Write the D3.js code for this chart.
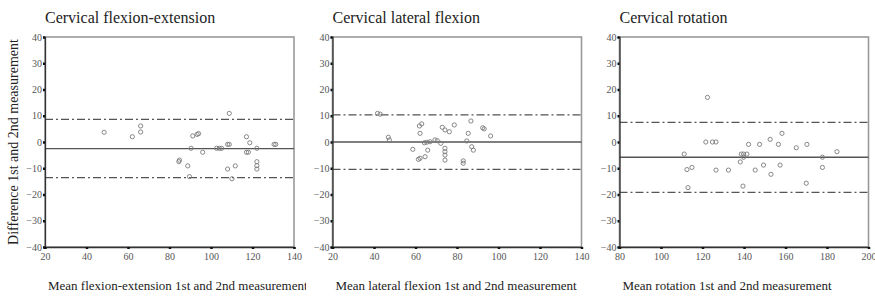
<!DOCTYPE html>
<html><head><meta charset="utf-8">
<script src="https://cdn.jsdelivr.net/npm/d3@7"></script>
<style>
body{margin:0;background:#fff;}
svg{display:block;}
text{font-family:"Liberation Serif","DejaVu Serif",serif;}
</style></head>
<body>
<svg id="c" width="875" height="296"></svg>
<script>
// ---- data ----
const titles = ["Cervical flexion-extension", "Cervical lateral flexion", "Cervical rotation"];
const xLabels = ["Mean flexion-extension 1st and 2nd measurement",
                 "Mean lateral flexion 1st and 2nd measurement",
                 "Mean rotation 1st and 2nd measurement"];
const yLabel = "Difference 1st and 2nd measurement";
const xTicks1 = [20, 40, 60, 80, 100, 120, 140];
const xTicks2 = [20, 40, 60, 80, 100, 120, 140];
const xTicks3 = [80, 100, 120, 140, 160, 180, 200];
const yTicks = [40, 30, 20, 10, 0, -10, -20, -30, -40];

const flexExt = [[48.5,3.7],[62.1,2.0],[66.1,6.1],[66.1,3.8],[91.2,2.3],[93.3,2.9],[94.0,3.2],
  [90.4,-2.4],[96,-3.9],[102.7,-2.4],[104,-2.4],[105.1,-2.4],[108,-0.9],[108.8,-0.9],[108.8,10.9],
  [117.1,2.0],[118.7,-0.3],[117.1,-3.9],[118,-3.9],[122.1,-2.4],[130.4,-0.9],[131.2,-0.9],
  [122.1,-7.5],[122.1,-9.0],[122.1,-10.3],[84.5,-7.5],[84.8,-6.9],[88.8,-9.1],[108,-10.3],
  [111.7,-9.1],[89.6,-13.2],[110.1,-14]];
const flexExtStats = [-2.5, 8.6, -13.6];   // mean, upper limit, lower limit

const latFlex = [[41.7,10.9],[43,10.6],[46.9,1.8],[47.4,0.8],[61.9,6.1],[63,6.9],[62.2,3.3],
  [58.7,-2.8],[64.3,-0.3],[65.4,-0.1],[67,0.1],[69.4,0.8],[70.5,0.5],[65.9,-3.1],
  [61.4,-6.6],[62.2,-6.2],[64.6,-5.6],[72.2,-0.5],[74.2,-2.4],[74.2,-3.7],[74.2,-5],[74.2,-6.9],
  [72.9,5.6],[74.2,4.6],[76.3,3.9],[78.7,6.5],[86.7,8],[85.4,3.3],[84.7,0.4],[87.1,-1.8],
  [87.9,-3.1],[92.4,5.4],[93.1,5],[96.2,2.3],[83,-7.2],[83,-8.1]];
const latFlexStats = [0, 10.3, -10.4];

const rotation = [[122.4,17],[121.6,0],[124.8,0],[126.5,0],[111.2,-4.6],[112.5,-10.5],[114.9,-9.7],
  [126.5,-10.7],[132.5,-10.7],[113,-17.4],[138.2,-7.6],[138.7,-4.6],[139.8,-4.6],[141.4,-4.6],
  [139.8,-5.8],[139.5,-16.8],[142.2,-0.9],[147.5,-0.9],[145.4,-10.7],[149.4,-8.8],[152.6,1.0],
  [153,-12.3],[156.6,-0.9],[157.4,-8.8],[158.3,3.3],[165.2,-2.2],[170.3,-0.9],[170,-15.7],
  [177.8,-5.8],[177.8,-9.7],[184.8,-3.7]];
const rotationStats = [-5.8, 7.5, -19.2];

const panels = [
  {title: titles[0], xl: xLabels[0], ticks: xTicks1, pts: flexExt, st: flexExtStats, left: 45, clip: 306, ylab: true},
  {title: titles[1], xl: xLabels[1], ticks: xTicks2, pts: latFlex, st: latFlexStats, left: 332.5, clip: 600, ylab: false},
  {title: titles[2], xl: xLabels[2], ticks: xTicks3, pts: rotation, st: rotationStats, left: 619.5, clip: 875, ylab: false}
];

// ---- drawing ----
const svg = d3.select("#c");
const W = 249, plotTop = 37, plotBottom = 247;
const y = d3.scaleLinear().domain([-40, 40]).range([plotBottom, plotTop]);

panels.forEach((p, i) => {
  const clipId = "clip" + i;
  const clipLeft = i === 0 ? 0 : panels[i-1].clip;
  svg.append("clipPath").attr("id", clipId).append("rect")
     .attr("x", clipLeft).attr("y", 0).attr("width", p.clip - clipLeft).attr("height", 296);
  const g = svg.append("g").attr("clip-path", `url(#${clipId})`);
  const x = d3.scaleLinear().domain(d3.extent(p.ticks)).range([p.left, p.left + W]);

  g.append("text").attr("x", p.left).attr("y", 23).attr("font-size", 16).attr("fill", "#222")
    .text(p.title);

  g.append("rect").attr("x", p.left).attr("y", plotTop).attr("width", W).attr("height", plotBottom - plotTop)
    .attr("fill", "none").attr("stroke", "#999").attr("stroke-width", 1.6);

  const [m, up, lo] = p.st;
  g.append("line").attr("x1", p.left).attr("x2", p.left + W).attr("y1", y(m)).attr("y2", y(m))
    .attr("stroke", "#555").attr("stroke-width", 1.3);
  [up, lo].forEach(v => {
    g.append("line").attr("x1", p.left).attr("x2", p.left + W).attr("y1", y(v)).attr("y2", y(v))
      .attr("stroke", "#555").attr("stroke-width", 1.2).attr("stroke-dasharray", "8,3,2,3");
  });

  g.selectAll("circle.pt").data(p.pts).enter().append("circle").attr("class", "pt")
    .attr("cx", d => x(d[0])).attr("cy", d => y(d[1])).attr("r", 2.1)
    .attr("fill", "none").attr("stroke", "#7a7a7a").attr("stroke-width", 0.9);

  const ya = d3.axisLeft(y).tickValues(yTicks).tickSize(2).tickPadding(1).tickFormat(d3.format("d"));
  const yg = g.append("g").attr("transform", `translate(${p.left},0)`).call(ya);
  yg.select(".domain").attr("stroke", "#333").attr("stroke-width", 1.3);
  yg.selectAll(".tick line").attr("stroke", "#111").attr("stroke-width", 2.5);
  yg.selectAll(".tick text").attr("font-size", 10).attr("fill", "#555")
    .attr("font-family", "Liberation Serif, serif");

  const xa = d3.axisBottom(x).tickValues(p.ticks).tickSize(2).tickPadding(4).tickFormat(d3.format("d"));
  const xg = g.append("g").attr("transform", `translate(0,${plotBottom})`).call(xa);
  xg.select(".domain").attr("stroke", "#333").attr("stroke-width", 1.3);
  xg.selectAll(".tick line").attr("stroke", "#111").attr("stroke-width", 2.5);
  xg.selectAll(".tick text").attr("font-size", 10).attr("fill", "#555")
    .attr("font-family", "Liberation Serif, serif");

  g.append("text").attr("x", p.left + 3).attr("y", 290).attr("font-size", 13).attr("fill", "#222")
    .text(p.xl);

  if (p.ylab) {
    g.append("text").attr("transform", `translate(18,${(plotTop + plotBottom) / 2}) rotate(-90)`)
      .attr("text-anchor", "middle").attr("font-size", 14).attr("fill", "#222").text(yLabel);
  }
});
</script>
</body></html>
